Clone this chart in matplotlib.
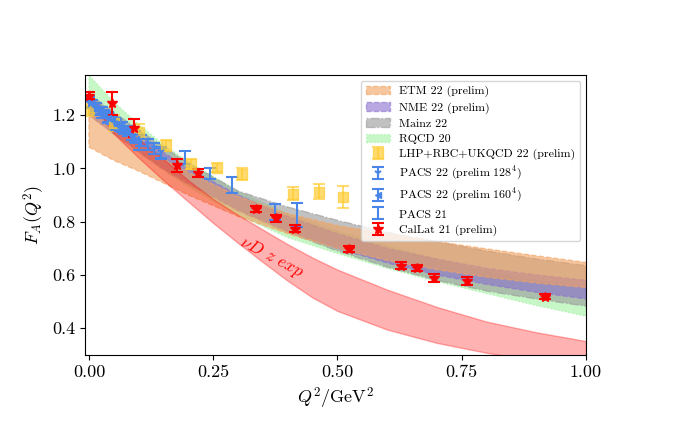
import numpy as np
import matplotlib
matplotlib.use("Agg")
import matplotlib.pyplot as plt

plt.rcParams["font.family"] = ["cmr10", "DejaVu Serif"]
plt.rcParams["mathtext.fontset"] = "cm"
plt.rcParams["axes.formatter.use_mathtext"] = True
plt.rcParams["axes.unicode_minus"] = False

# lattice bands, sampled on a common Q^2 grid
q2_band = [0, 0.05, 0.1, 0.15, 0.2, 0.3, 0.4, 0.5, 0.6, 0.7, 0.8, 0.9, 1.0]
etm_up = [1.22, 1.15, 1.09, 1.035, 0.985, 0.895, 0.83, 0.785, 0.755, 0.725, 0.698, 0.672, 0.647]
etm_lo = [1.08, 1.03, 0.99, 0.945, 0.90, 0.82, 0.755, 0.70, 0.655, 0.62, 0.592, 0.57, 0.553]
nme_up = [1.26, 1.19, 1.125, 1.06, 1.0, 0.90, 0.82, 0.755, 0.70, 0.66, 0.625, 0.60, 0.58]
nme_lo = [1.20, 1.13, 1.065, 1.0, 0.945, 0.845, 0.765, 0.70, 0.645, 0.60, 0.565, 0.535, 0.51]
mainz_up = [1.28, 1.21, 1.145, 1.08, 1.02, 0.915, 0.855, 0.805, 0.76, 0.725, 0.69, 0.66, 0.635]
mainz_lo = [1.20, 1.13, 1.06, 0.995, 0.94, 0.84, 0.76, 0.69, 0.63, 0.58, 0.54, 0.51, 0.483]
rqcd_up = [1.35, 1.25, 1.165, 1.09, 1.025, 0.915, 0.83, 0.765, 0.71, 0.66, 0.615, 0.58, 0.55]
rqcd_lo = [1.22, 1.14, 1.065, 0.995, 0.93, 0.825, 0.74, 0.68, 0.625, 0.575, 0.53, 0.485, 0.445]

# nu D z-expansion band
q2_nud = [0, 0.05, 0.1, 0.15, 0.2, 0.25, 0.3, 0.35, 0.4, 0.45, 0.5, 0.6, 0.7, 0.8, 0.9, 1.0]
nud_up = [1.275, 1.19, 1.11, 1.035, 0.955, 0.885, 0.825, 0.77, 0.715, 0.665, 0.62, 0.545, 0.48, 0.425, 0.385, 0.352]
nud_lo = [1.265, 1.13, 1.04, 0.955, 0.875, 0.795, 0.72, 0.648, 0.578, 0.515, 0.465, 0.395, 0.345, 0.308, 0.278, 0.25]

# data points
lhp_q2 = [0.0, 0.05, 0.10, 0.155, 0.205, 0.257, 0.308, 0.41, 0.462, 0.512]
lhp_f = [1.222, 1.17, 1.138, 1.086, 1.017, 1.003, 0.98, 0.905, 0.912, 0.893]
lhp_err = [0.025, 0.03, 0.03, 0.02, 0.02, 0.018, 0.022, 0.025, 0.028, 0.04]

pacs128_q2 = [0.0, 0.013, 0.026, 0.039, 0.052, 0.066, 0.079, 0.092, 0.105, 0.118, 0.131, 0.145]
pacs128_f = [1.245, 1.225, 1.21, 1.19, 1.17, 1.155, 1.14, 1.12, 1.105, 1.09, 1.075, 1.06]
pacs128_err = [0.02, 0.02, 0.02, 0.02, 0.02, 0.02, 0.02, 0.02, 0.02, 0.02, 0.02, 0.02]

pacs160_q2 = [0.006, 0.014, 0.022, 0.030, 0.038, 0.046, 0.054, 0.062, 0.070, 0.078, 0.086, 0.094]
pacs160_f = [1.24, 1.23, 1.215, 1.205, 1.19, 1.18, 1.165, 1.155, 1.145, 1.135, 1.12, 1.11]
pacs160_err = [0.015, 0.015, 0.015, 0.015, 0.015, 0.015, 0.015, 0.015, 0.015, 0.015, 0.015, 0.015]

pacs21_q2 = [0.0, 0.055, 0.10, 0.145, 0.194, 0.244, 0.288, 0.375, 0.418]
pacs21_f = [1.25, 1.165, 1.09, 1.055, 1.042, 0.98, 0.937, 0.837, 0.825]
pacs21_err = [0.02, 0.02, 0.02, 0.02, 0.025, 0.02, 0.03, 0.03, 0.045]

callat_q2 = [0.001, 0.046, 0.09, 0.177, 0.22, 0.336, 0.377, 0.415, 0.524, 0.628, 0.661, 0.695, 0.761, 0.918]
callat_f = [1.272, 1.245, 1.152, 1.011, 0.983, 0.847, 0.813, 0.773, 0.697, 0.635, 0.627, 0.587, 0.577, 0.519]
callat_err = [0.013, 0.043, 0.034, 0.023, 0.015, 0.012, 0.013, 0.013, 0.012, 0.012, 0.012, 0.015, 0.014, 0.01]

fig = plt.figure(figsize=(6.77, 4.22), dpi=100)
ax = fig.add_axes([0.1255, 0.159, 0.74, 0.663])

# legend order ETM, NME, Mainz, RQCD but ETM drawn on top
ax.fill_between(q2_band, etm_lo, etm_up, facecolor="#F0A060", alpha=0.6,
                edgecolor="#F4A460", linestyle="--", lw=1, zorder=1.4,
                label="ETM 22 (prelim)")
ax.fill_between(q2_band, nme_lo, nme_up, facecolor="#8A6FCF", alpha=0.6,
                edgecolor="#8A6FCF", linestyle="--", lw=1, zorder=1.3,
                label="NME 22 (prelim)")
ax.fill_between(q2_band, mainz_lo, mainz_up, facecolor="#999999", alpha=0.6,
                edgecolor="#999999", linestyle="-.", lw=1, zorder=1.2,
                label="Mainz 22")
ax.fill_between(q2_band, rqcd_lo, rqcd_up, facecolor="#90EE90", alpha=0.5,
                edgecolor="#90EE90", linestyle=":", lw=1, zorder=1.1,
                label="RQCD 20")

ax.fill_between(q2_nud, nud_lo, nud_up, facecolor="red", alpha=0.3,
                edgecolor="red", lw=1, zorder=1.5)
ax.text(0.367, 0.665, r"$\nu D\ z\ exp$", color="red", fontsize=12.5,
        rotation=-28, ha="center", va="center")

ax.errorbar(lhp_q2, lhp_f, yerr=lhp_err, fmt="s", color="#FFCC33", alpha=0.7,
            ms=7, capsize=4, elinewidth=1.5, capthick=1.5,
            label="LHP+RBC+UKQCD 22 (prelim)")
ax.errorbar(pacs128_q2, pacs128_f, yerr=pacs128_err, fmt="1", color="#4A86E8",
            ms=6, mew=1.5, capsize=4, elinewidth=1.5, capthick=1.5,
            label=r"PACS 22 (prelim $128^4$)")
ax.errorbar(pacs160_q2, pacs160_f, yerr=pacs160_err, fmt="<", color="#4A86E8",
            ms=4, capsize=4, elinewidth=1.5, capthick=1.5,
            label=r"PACS 22 (prelim $160^4$)")
ax.errorbar(pacs21_q2, pacs21_f, yerr=pacs21_err, fmt="none", ecolor="#4A86E8",
            capsize=4, elinewidth=1.5, capthick=1.5, label="PACS 21")
ax.errorbar(callat_q2, callat_f, yerr=callat_err, fmt="*", color="red",
            ms=7, capsize=4, elinewidth=1.5, capthick=1.5,
            label="CalLat 21 (prelim)")

ax.set_xlim(-0.008, 1.0)
ax.set_ylim(0.3, 1.35)
ax.set_xticks([0, 0.25, 0.5, 0.75, 1.0])
ax.set_xticklabels(["0.00", "0.25", "0.50", "0.75", "1.00"])
ax.set_yticks([0.4, 0.6, 0.8, 1.0, 1.2])
ax.set_yticklabels(["0.4", "0.6", "0.8", "1.0", "1.2"])
ax.tick_params(labelsize=13)
ax.set_xlabel(r"$Q^2/\mathrm{GeV}^2$", fontsize=13)
ax.set_ylabel(r"$F_A(Q^2)$", fontsize=13)

ax.legend(loc="upper right", fontsize=8.6, labelspacing=0.4)

fig.savefig("out.png", dpi=100)
